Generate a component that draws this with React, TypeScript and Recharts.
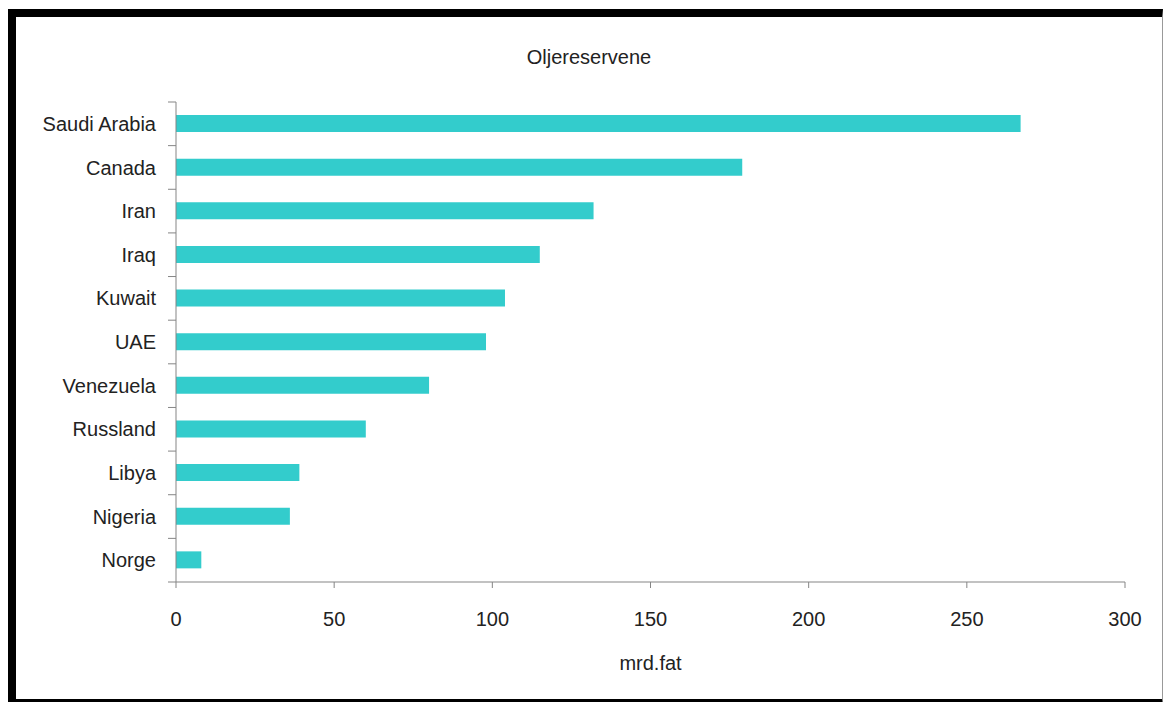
import React from "react";
import { BarChart, Bar, XAxis, YAxis } from "recharts";

const countries = ["Saudi Arabia", "Canada", "Iran", "Iraq", "Kuwait", "UAE", "Venezuela", "Russland", "Libya", "Nigeria", "Norge"];
const reserves = [267, 179, 132, 115, 104, 98, 80, 60, 39, 36, 8];
const xTicks = [0, 50, 100, 150, 200, 250, 300];
const title = "Oljereservene";
const xLabel = "mrd.fat";

const data = countries.map((c, i) => ({ country: c, value: reserves[i] }));

const FONT = '"Liberation Sans", Arial, sans-serif';
const TEXT = "#222";
const AXIS = "#858585";
const Y_TICK_SIZE = 6;
const Y_TICK_MARGIN = 14;
const BOUNDARY_TICK = 8;

function CategoryTick(props: any) {
  const { x, y, payload, index, visibleTicksCount } = props;
  const axisX = x + Y_TICK_SIZE + Y_TICK_MARGIN;
  const half = payload && typeof payload.offset === "number" ? payload.offset : 0;
  const isLast = index === (visibleTicksCount ?? countries.length) - 1;
  return (
    <g>
      <line x1={axisX - BOUNDARY_TICK} x2={axisX} y1={y - half} y2={y - half} stroke={AXIS} strokeWidth={1} />
      {isLast && (
        <line x1={axisX - BOUNDARY_TICK} x2={axisX} y1={y + half} y2={y + half} stroke={AXIS} strokeWidth={1} />
      )}
      <text x={x} y={y} dy="0.355em" textAnchor="end" fontSize={20} fill={TEXT} fontFamily={FONT}>
        {payload.value}
      </text>
    </g>
  );
}

export default function App() {
  return (
    <div style={{ position: "fixed", left: 0, top: 0, width: 1163, height: 702, overflow: "hidden", background: "#fff", fontFamily: FONT }}>
      <div
        style={{
          position: "absolute",
          left: 8,
          top: 9,
          width: 1155,
          height: 698,
          boxSizing: "border-box",
          borderLeft: "8px solid #000",
          borderTop: "8px solid #000",
          borderBottom: "8px solid #000",
          borderRight: "1px solid #999",
        }}
      />
      <div style={{ position: "absolute", left: 0, top: 47, width: 1178, textAlign: "center", fontSize: 20, lineHeight: "20px", color: TEXT }}>
        {title}
      </div>
      <div style={{ position: "absolute", left: 0, top: 0 }}>
        <BarChart
          width={1163}
          height={702}
          data={data}
          layout="vertical"
          margin={{ top: 102, right: 38, bottom: 30, left: 16 }}
        >
          <XAxis
            type="number"
            domain={[0, 300]}
            ticks={xTicks}
            interval={0}
            height={90}
            stroke={AXIS}
            tickSize={6}
            tickMargin={24}
            tick={{ fontSize: 20, fill: TEXT, fontFamily: FONT }}
            label={{ value: xLabel, position: "insideBottom", offset: 2, fontSize: 20, fill: TEXT, fontFamily: FONT }}
          />
          <YAxis
            type="category"
            dataKey="country"
            width={160}
            interval={0}
            stroke={AXIS}
            axisLine={{ stroke: AXIS }}
            tickLine={false}
            tickSize={Y_TICK_SIZE}
            tickMargin={Y_TICK_MARGIN}
            tick={<CategoryTick />}
          />
          <Bar dataKey="value" fill="#33CCCC" barSize={17} isAnimationActive={false} />
        </BarChart>
      </div>
    </div>
  );
}
